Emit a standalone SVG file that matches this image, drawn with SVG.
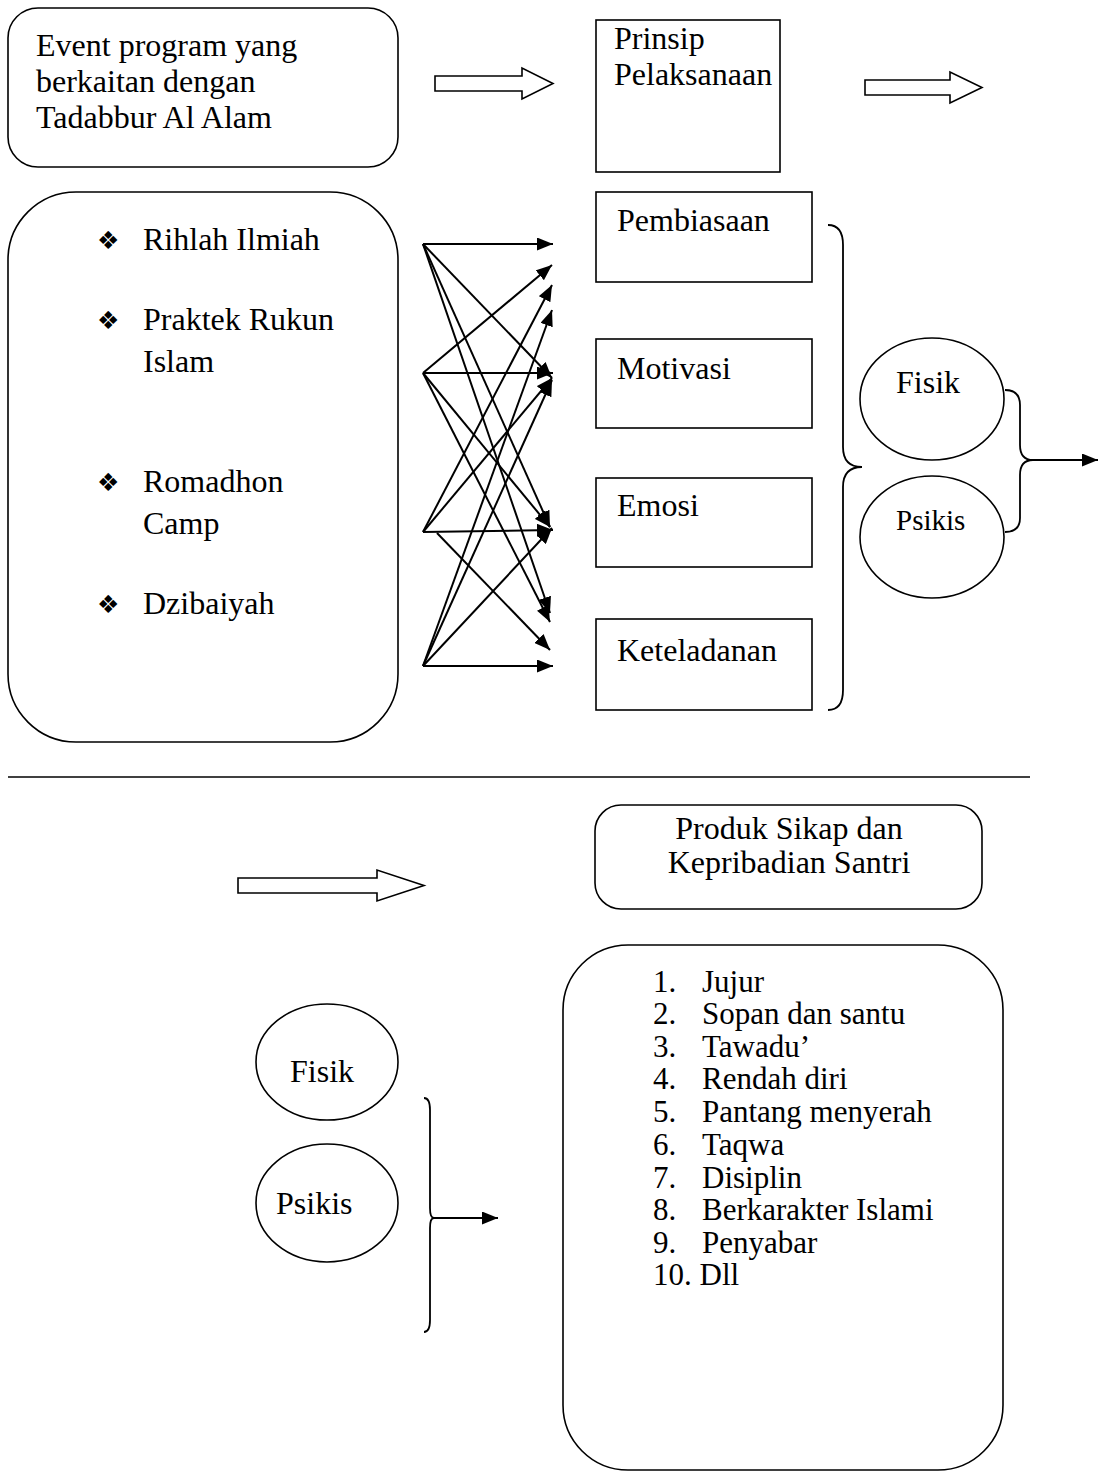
<svg xmlns="http://www.w3.org/2000/svg" width="1099" height="1477" viewBox="0 0 1099 1477">
<style>
.t{font-family:"Liberation Serif","Times New Roman",serif;font-size:32px;fill:#000}
.l{font-family:"Liberation Serif","Times New Roman",serif;font-size:31px;fill:#000}
.s{font-family:"Liberation Serif","Times New Roman",serif;font-size:29px;fill:#000}
.b{font-family:"DejaVu Sans",sans-serif;font-size:25px;fill:#000}
.box{fill:#fff;stroke:#000;stroke-width:1.6}
.hol{fill:#fff;stroke:#000;stroke-width:1.6;stroke-linejoin:miter}
.br{fill:none;stroke:#000;stroke-width:1.8}
.c{stroke:#000;stroke-width:2;fill:none;marker-end:url(#ah)}
</style>
<defs>
<marker id="ah" markerUnits="userSpaceOnUse" markerWidth="16" markerHeight="13" refX="16" refY="6.5" orient="auto">
<path d="M0,0 L16,6.5 L0,13 z" fill="#000"/>
</marker>
</defs>
<rect width="1099" height="1477" fill="#fff"/>

<g id="event">
<rect class="box" x="8" y="8" width="390" height="159" rx="30"/>
<text class="t" x="36" y="56">Event program yang</text>
<text class="t" x="36" y="92">berkaitan dengan</text>
<text class="t" x="36" y="128">Tadabbur Al Alam</text>
</g>

<g id="prinsip">
<rect class="box" x="596" y="20" width="184" height="152"/>
<text class="t" x="614" y="49">Prinsip</text>
<text class="t" x="614" y="85">Pelaksanaan</text>
</g>

<g id="hollow1"><path class="hol" d="M435,76 L522,76 L522,68 L553,83.5 L522,99 L522,91 L435,91 Z"/></g>
<g id="hollow2"><path class="hol" d="M865,80 L950,80 L950,72 L982,87.5 L950,103 L950,95 L865,95 Z"/></g>

<g id="programs">
<rect class="box" x="8" y="192" width="390" height="550" rx="68"/>
<text class="b" x="97" y="249">❖</text>
<text class="t" x="143" y="250">Rihlah Ilmiah</text>
<text class="b" x="97" y="329">❖</text>
<text class="t" x="143" y="330">Praktek Rukun</text>
<text class="t" x="143" y="372">Islam</text>
<text class="b" x="97" y="491">❖</text>
<text class="t" x="143" y="492">Romadhon</text>
<text class="t" x="143" y="534">Camp</text>
<text class="b" x="97" y="613">❖</text>
<text class="t" x="143" y="614">Dzibaiyah</text>
</g>

<g id="pembiasaan">
<rect class="box" x="596" y="192" width="216" height="90"/>
<text class="t" x="617" y="231">Pembiasaan</text>
</g>
<g id="motivasi">
<rect class="box" x="596" y="339" width="216" height="89"/>
<text class="t" x="617" y="379">Motivasi</text>
</g>
<g id="emosi">
<rect class="box" x="596" y="478" width="216" height="89"/>
<text class="t" x="617" y="516">Emosi</text>
</g>
<g id="keteladanan">
<rect class="box" x="596" y="619" width="216" height="91"/>
<text class="t" x="617" y="661">Keteladanan</text>
</g>

<g id="fisik1">
<ellipse class="box" cx="932" cy="399" rx="72" ry="61"/>
<text class="t" x="896" y="393">Fisik</text>
</g>
<g id="psikis1">
<ellipse class="box" cx="932" cy="537" rx="72" ry="61"/>
<text class="s" x="896" y="530">Psikis</text>
</g>

<g id="produk">
<rect class="box" x="595" y="805" width="387" height="104" rx="26"/>
<text class="t" x="789" y="839" text-anchor="middle">Produk Sikap dan</text>
<text class="t" x="789" y="873" text-anchor="middle">Kepribadian Santri</text>
</g>

<g id="hollow3"><path class="hol" d="M238,878 L377,878 L377,870 L424,885.5 L377,901 L377,893 L238,893 Z"/></g>

<g id="fisik2">
<ellipse class="box" cx="327" cy="1062" rx="71" ry="58"/>
<text class="t" x="290" y="1082">Fisik</text>
</g>
<g id="psikis2">
<ellipse class="box" cx="327" cy="1203" rx="71" ry="59"/>
<text class="t" x="276" y="1214">Psikis</text>
</g>

<g id="sikap">
<rect class="box" x="563" y="945" width="440" height="525" rx="65"/>
<text class="l" x="653" y="992">1.</text><text class="l" x="702" y="992">Jujur</text>
<text class="l" x="653" y="1024">2.</text><text class="l" x="702" y="1024">Sopan dan santu</text>
<text class="l" x="653" y="1057">3.</text><text class="l" x="702" y="1057">Tawadu’</text>
<text class="l" x="653" y="1089">4.</text><text class="l" x="702" y="1089">Rendah diri</text>
<text class="l" x="653" y="1122">5.</text><text class="l" x="702" y="1122">Pantang menyerah</text>
<text class="l" x="653" y="1155">6.</text><text class="l" x="702" y="1155">Taqwa</text>
<text class="l" x="653" y="1188">7.</text><text class="l" x="702" y="1188">Disiplin</text>
<text class="l" x="653" y="1220">8.</text><text class="l" x="702" y="1220">Berkarakter Islami</text>
<text class="l" x="653" y="1253">9.</text><text class="l" x="702" y="1253">Penyabar</text>
<text class="l" x="653" y="1285">10. Dll</text>
</g>

<g id="connectors">
<line x1="423" y1="244" x2="553" y2="244" class="c"/>
<line x1="423" y1="244" x2="552" y2="378" class="c"/>
<line x1="423" y1="244" x2="550" y2="527" class="c"/>
<line x1="423" y1="244" x2="550" y2="613" class="c"/>
<line x1="423" y1="373" x2="552" y2="265" class="c"/>
<line x1="423" y1="373" x2="553" y2="373" class="c"/>
<line x1="423" y1="373" x2="550" y2="527" class="c"/>
<line x1="423" y1="373" x2="550" y2="622" class="c"/>
<line x1="423" y1="532" x2="552" y2="285" class="c"/>
<line x1="423" y1="532" x2="552" y2="378" class="c"/>
<line x1="423" y1="532" x2="553" y2="530" class="c"/>
<line x1="437" y1="533" x2="550" y2="650" class="c"/>
<line x1="423" y1="666" x2="552" y2="310" class="c"/>
<line x1="423" y1="666" x2="552" y2="380" class="c"/>
<line x1="423" y1="666" x2="552" y2="528" class="c"/>
<line x1="423" y1="666" x2="553" y2="666" class="c"/>
<path class="br" d="M828,225 Q843,225 843,245 L843,447 Q843,467 862,467 Q843,467 843,487 L843,690 Q843,710 828,710"/>
<path class="br" d="M1005,390 Q1020,390 1020,405 L1020,445 Q1020,460 1033,460 Q1020,460 1020,475 L1020,518 Q1020,532 1005,532"/>
<line x1="1033" y1="460" x2="1098" y2="460" class="c"/>
<line x1="8" y1="777" x2="1030" y2="777" stroke="#000" stroke-width="1.6"/>
<path class="br" d="M424,1098 Q430,1098 430,1110 L430,1208 Q430,1218 434,1218 Q430,1218 430,1228 L430,1320 Q430,1332 424,1332"/>
<line x1="434" y1="1218" x2="498" y2="1218" class="c"/>
</g>
</svg>
